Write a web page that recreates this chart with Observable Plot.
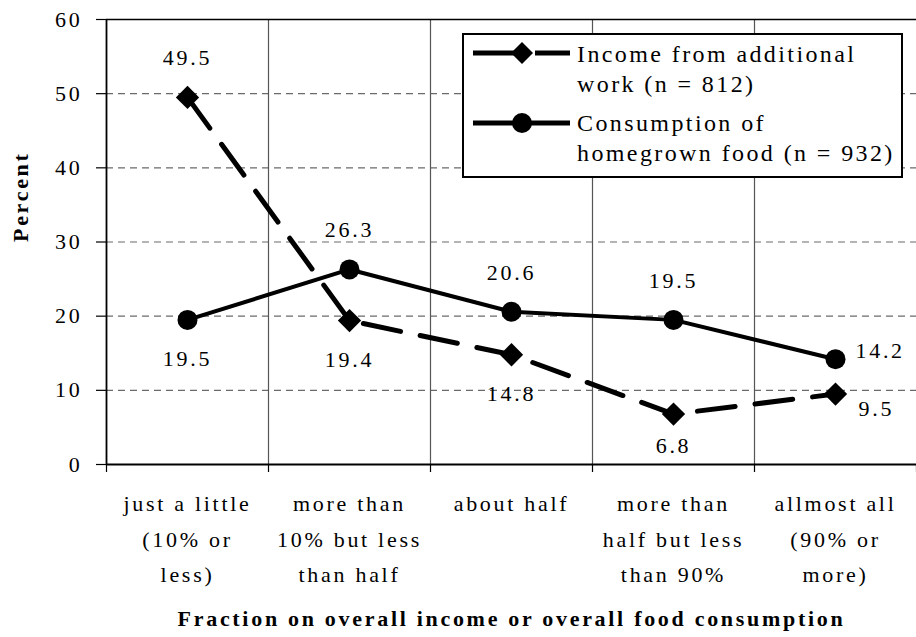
<!DOCTYPE html>
<html>
<head>
<meta charset="utf-8">
<script src="https://cdn.jsdelivr.net/npm/d3@7"></script>
<script src="https://cdn.jsdelivr.net/npm/@observablehq/plot@0.6"></script>
<style>
  html, body { margin: 0; padding: 0; background: #fff; }
  #wrap { position: relative; width: 916px; height: 637px; }
  #wrap svg text { font-family: "Liberation Serif", "Times New Roman", serif; }
  #legend {
    position: absolute; left: 462px; top: 33px; width: 437px; height: 141px;
    border: 2.5px solid #000; background: #fff;
    font-family: "Liberation Serif", "Times New Roman", serif; font-size: 24px; letter-spacing: 2.4px; color: #000;
  }
  #legend .t { position: absolute; left: 113px; white-space: nowrap; line-height: 30px; }
  #legend svg { position: absolute; left: 0; top: 0; }
</style>
</head>
<body>
<div id="wrap"></div>
<script>
const categories = [
  "just a little\n(10% or\nless)",
  "more than\n10% but less\nthan half",
  "about half",
  "more than\nhalf but less\nthan 90%",
  "allmost all\n(90% or\nmore)"
];
const incomeValues = [49.5, 19.4, 14.8, 6.8, 9.5];
const consumptionValues = [19.5, 26.3, 20.6, 19.5, 14.2];
const incomeLabelPlacement = ["above", "below", "below", "below-near", "right-below"];
const consumptionLabelPlacement = ["below", "above", "above", "above", "right"];
const yTicks = [0, 10, 20, 30, 40, 50, 60];
const seriesNames = ["Income from additional\nwork (n = 812)", "Consumption of\nhomegrown food (n = 932)"];
const yLabel = "Percent";
const xLabel = "Fraction on overall income or overall food consumption";

const income = incomeValues.map((v, i) => ({i, x: i + 0.5, v, place: incomeLabelPlacement[i]}));
const consumption = consumptionValues.map((v, i) => ({i, x: i + 0.5, v, place: consumptionLabelPlacement[i]}));
const allPts = income.concat(consumption);

const placeOpts = {
  "above": {dy: -39, textAnchor: "middle"},
  "below": {dy: 39, textAnchor: "middle"},
  "below-near": {dy: 32, textAnchor: "middle"},
  "right": {dx: 20, dy: -8, textAnchor: "start"},
  "right-below": {dx: 23, dy: 15, textAnchor: "start"}
};
const labelMarks = Object.entries(placeOpts).map(([k, o]) =>
  Plot.text(allPts.filter(d => d.place === k), {x: "x", y: "v", text: d => d.v.toFixed(1), ...o})
);

const boundaries = d3.range(0, categories.length + 1);
const centers = d3.range(categories.length).map(i => i + 0.5);

const chart = Plot.plot({
  width: 916, height: 637,
  marginLeft: 106, marginRight: 0, marginTop: 19, marginBottom: 173,
  style: {fontFamily: "'Liberation Serif', 'Times New Roman', serif", fontSize: "22px", letterSpacing: "2.7px", color: "#000", background: "#fff", overflow: "visible"},
  x: {type: "linear", domain: [0, categories.length]},
  y: {domain: [0, 60]},
  marks: [
    Plot.ruleY(yTicks.filter(d => d > 0 && d < 60), {stroke: "#6a6a6a", strokeWidth: 1.2, strokeDasharray: "7,5"}),
    Plot.ruleX(boundaries.filter(d => d > 0 && d < categories.length), {stroke: "#555", strokeWidth: 1.2}),
    Plot.ruleY([60], {stroke: "#000", strokeWidth: 1.5}),
    Plot.ruleY([0], {stroke: "#000", strokeWidth: 1.8}),
    Plot.ruleX([0], {stroke: "#000", strokeWidth: 1.8}),
    Plot.axisY({ticks: yTicks, tickSize: 10, tickPadding: 14, tickFormat: d => String(d), label: null, strokeWidth: 1.2}),
    Plot.axisX({ticks: boundaries, tickSize: 8, tickFormat: () => "", label: null, strokeWidth: 1.2}),
    Plot.axisX({ticks: centers, tickSize: 0, tickPadding: 22, lineHeight: 1.6, tickFormat: d => categories[Math.floor(d)], label: null}),
    Plot.text([yLabel], {frameAnchor: "left", dx: -86, rotate: -90, fontWeight: "bold"}),
    Plot.text([xLabel], {frameAnchor: "bottom", dy: 161, fontWeight: "bold"}),
    Plot.line(consumption, {x: "x", y: "v", stroke: "#000", strokeWidth: 4}),
    Plot.line(income, {x: "x", y: "v", stroke: "#000", strokeWidth: 5, strokeDasharray: "38,20"}),
    Plot.dot(consumption, {x: "x", y: "v", r: 10, fill: "#000"}),
    Plot.dot(income, {x: "x", y: "v", r: 10.5, fill: "#000", symbol: "diamond2"}),
    ...labelMarks
  ]
});
const wrap = document.getElementById("wrap");
wrap.appendChild(chart);

// Legend
const legend = document.createElement("div");
legend.id = "legend";
legend.innerHTML = `
<svg width="437" height="141">
  <line x1="9" x2="56" y1="18" y2="18" stroke="#000" stroke-width="5"/>
  <line x1="71" x2="106" y1="18" y2="18" stroke="#000" stroke-width="5"/>
  <path d="M58,7 L69,18 L58,29 L47,18 Z" fill="#000"/>
  <line x1="9" x2="106" y1="88" y2="88" stroke="#000" stroke-width="5"/>
  <circle cx="58" cy="88" r="10" fill="#000"/>
</svg>
<div class="t" style="top:4px">${seriesNames[0].split("\n").join("<br>")}</div>
<div class="t" style="top:73px">${seriesNames[1].split("\n").join("<br>")}</div>`;
wrap.appendChild(legend);
</script>
</body>
</html>
